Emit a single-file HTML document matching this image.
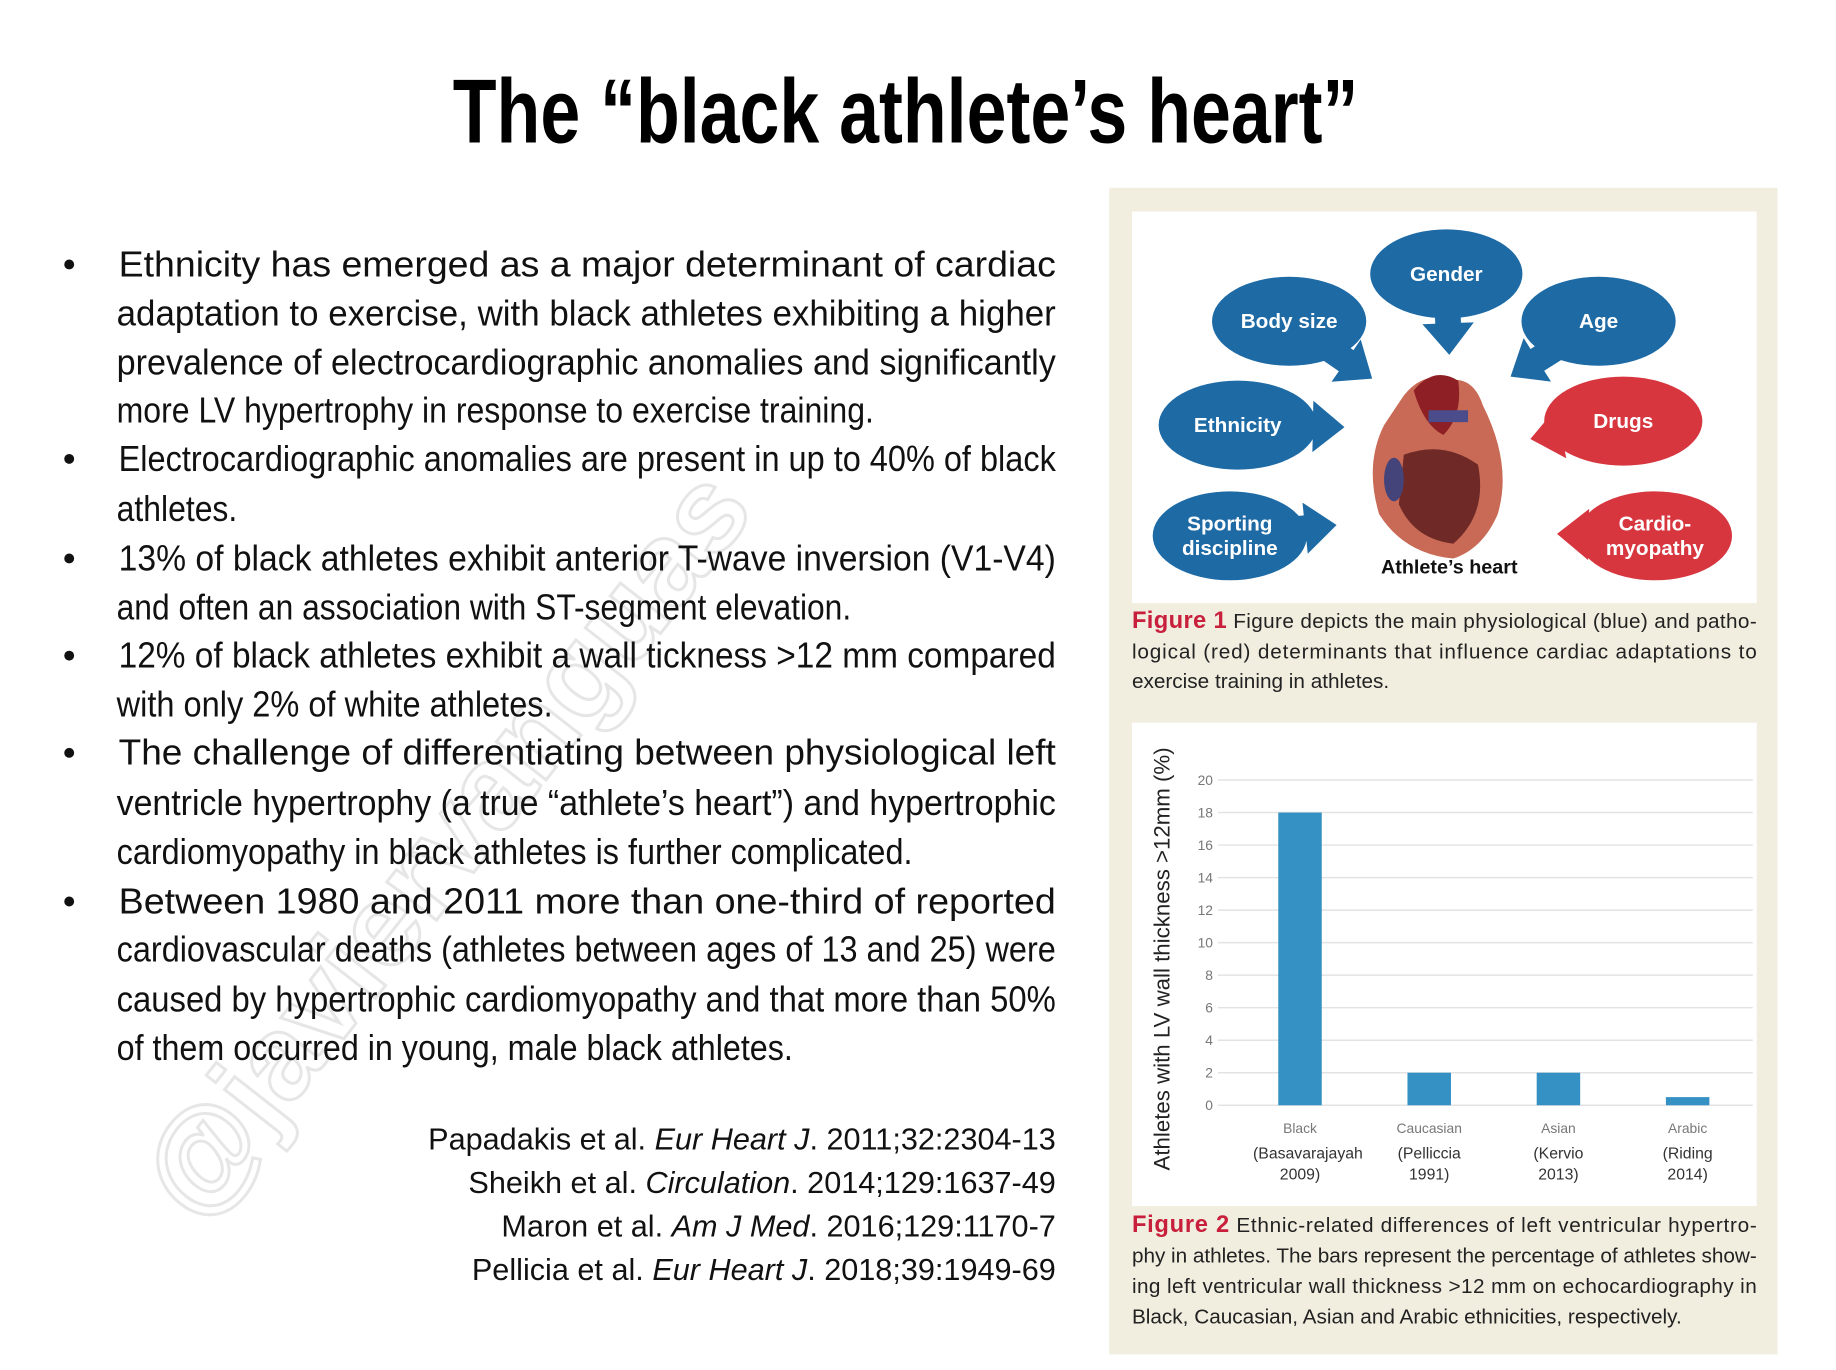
<!DOCTYPE html>
<html><head><meta charset="utf-8"><style>
html,body{margin:0;padding:0;background:#fff;}
svg{display:block;}
text{font-family:"Liberation Sans",sans-serif;}
</style></head>
<body>
<svg id="page" width="1836" height="1370" viewBox="0 0 1836 1370" xmlns="http://www.w3.org/2000/svg">
<rect width="1836" height="1370" fill="#fff"/>
<g transform="scale(0.9886)">
<text x="0" y="0" transform="translate(200,1240) rotate(-52)" font-size="120" fill="none" stroke="#e6e6e6" stroke-width="3" font-weight="bold">@javiervanguas</text>

<text x="916" y="144" text-anchor="middle" font-size="92" font-weight="bold" textLength="916" lengthAdjust="spacingAndGlyphs" fill="#000">The “black athlete’s heart”</text>

<g id="bullets" font-size="37" fill="#111"></g>
<g id="refs" font-size="31" fill="#111" text-anchor="end">
<text x="1068" y="1163">Papadakis et al. <tspan font-style="italic">Eur Heart J</tspan>. 2011;32:2304-13</text>
<text x="1068" y="1207">Sheikh et al. <tspan font-style="italic">Circulation</tspan>. 2014;129:1637-49</text>
<text x="1068" y="1251">Maron et al. <tspan font-style="italic">Am J Med</tspan>. 2016;129:1170-7</text>
<text x="1068" y="1295">Pellicia et al. <tspan font-style="italic">Eur Heart J</tspan>. 2018;39:1949-69</text>
</g>

<rect x="1122" y="190" width="676" height="1180" fill="#f1eee0"/>
<rect x="1145" y="214" width="632" height="396" fill="#fff"/>
<g id="fig1"></g>
<g font-size="21" fill="#222">
<text x="1145" y="635" textLength="632" lengthAdjust="spacing"><tspan font-weight="bold" fill="#c8203c" font-size="24">Figure 1</tspan>  Figure depicts the main physiological (blue) and patho-</text>
<text x="1145" y="666" textLength="632" lengthAdjust="spacing">logical (red) determinants that influence cardiac adaptations to</text>
<text x="1145" y="696">exercise training in athletes.</text>
</g>
<rect x="1145" y="731" width="632" height="489" fill="#fff"/>
<g id="chart"></g>
<g font-size="21" fill="#222">
<text x="1145" y="1246" textLength="632" lengthAdjust="spacing"><tspan font-weight="bold" fill="#c8203c" font-size="24">Figure 2</tspan>  Ethnic-related differences of left ventricular hypertro-</text>
<text x="1145" y="1277" textLength="632" lengthAdjust="spacing">phy in athletes. The bars represent the percentage of athletes show-</text>
<text x="1145" y="1308" textLength="632" lengthAdjust="spacing">ing left ventricular wall thickness &gt;12 mm on echocardiography in</text>
<text x="1145" y="1339">Black, Caucasian, Asian and Arabic ethnicities, respectively.</text>
</g>
</g>
</svg>
<script>
const NS='http://www.w3.org/2000/svg';
function mk(tag,attrs,parent,txt){const e=document.createElementNS(NS,tag);for(const k in attrs)e.setAttribute(k,attrs[k]);if(txt!==undefined)e.textContent=txt;parent.appendChild(e);return e;}

const bulletLines=[
 ["Ethnicity has emerged as a major determinant of cardiac",1,1],
 ["adaptation to exercise, with black athletes exhibiting a higher",0,1],
 ["prevalence of electrocardiographic anomalies and significantly",0,1],
 ["more LV hypertrophy in response to exercise training.",0,884],
 ["Electrocardiographic anomalies are present in up to 40% of black",1,1],
 ["athletes.",0,240],
 ["13% of black athletes exhibit anterior T-wave inversion (V1-V4)",1,1],
 ["and often an association with ST-segment elevation.",0,861],
 ["12% of black athletes exhibit a wall tickness >12 mm compared",1,1],
 ["with only 2% of white athletes.",0,559],
 ["The challenge of differentiating between physiological left",1,1],
 ["ventricle hypertrophy (a true “athlete’s heart”) and hypertrophic",0,1],
 ["cardiomyopathy in black athletes is further complicated.",0,923],
 ["Between 1980 and 2011 more than one-third of reported",1,1],
 ["cardiovascular deaths (athletes between ages of 13 and 25) were",0,1],
 ["caused by hypertrophic cardiomyopathy and that more than 50%",0,1],
 ["of them occurred in young, male black athletes.",0,802]
];
const lineY=[225,267,309,350,391,434,476,518,559,601,642,685,727,769,810,853,894];
const bg=document.getElementById('bullets');
bulletLines.forEach((l,i)=>{
 const y=(lineY[i]+11)*1.1845;
 const x0=l[1]?120:118;
 const right=l[2]===1?1068:l[2];
 const t=mk('text',{x:x0,y:y.toFixed(1),textLength:right-x0,lengthAdjust:'spacingAndGlyphs'},bg,l[0]);
 
 
 if(l[1]){const d=mk('circle',{cx:70,cy:(y-12).toFixed(1),r:5,fill:'#111'},bg);
  
  }
});

const f1=document.getElementById('fig1');
const BLUE='#1d6aa5',RED='#d7363f';
const bubbles=[
 ['Body size',1304,325,78,45,BLUE,1388,383],
 ['Gender',1463,277,77,45,BLUE,1466,359],
 ['Age',1617,325,78,45,BLUE,1528,381],
 ['Ethnicity',1252,430,80,45,BLUE,1360,432],
 ['Drugs',1642,426,80,45,RED,1548,444],
 ['Sporting|discipline',1244,542,78,45,BLUE,1352,531],
 ['Cardio-|myopathy',1674,542,78,45,RED,1575,540]
];
const hg=mk('g',{},f1);


mk('path',{d:'M1420 400 Q1440 375 1465 385 Q1490 380 1500 410 Q1530 470 1515 520 Q1500 555 1470 565 Q1420 560 1395 520 Q1380 470 1400 430 Z',fill:'#c86a55'},hg);
mk('path',{d:'M1430 395 Q1450 370 1475 385 Q1480 420 1460 440 Q1440 430 1430 395 Z',fill:'#8e1f24'},hg);
mk('path',{d:'M1420 460 Q1460 445 1495 470 Q1505 520 1470 550 Q1430 545 1415 510 Z',fill:'#6f2a27'},hg);
mk('rect',{x:1445,y:415,width:40,height:12,fill:'#4a4c8c'},hg);
mk('ellipse',{cx:1410,cy:485,rx:10,ry:22,fill:'#45447a'},hg);
bubbles.forEach(b=>{
 const g=mk('g',{},f1);
 
 
 const [lab,cx,cy,rx,ry,col,tx,ty]=b;
 const dx=tx-cx,dy=ty-cy,L=Math.hypot(dx,dy),ux=dx/L,uy=dy/L,px=-uy,py=ux;
 const hl=32,hw=26,sw=13;
 const bx=tx-ux*hl,by=ty-uy*hl;
 const pts=[[cx+px*sw,cy+py*sw],[bx+px*sw,by+py*sw],[bx+px*hw,by+py*hw],[tx,ty],[bx-px*hw,by-py*hw],[bx-px*sw,by-py*sw],[cx-px*sw,cy-py*sw]];
 mk('polygon',{points:pts.map(p=>p.map(v=>v.toFixed(1)).join(',')).join(' '),fill:col},g);
 mk('ellipse',{cx,cy,rx,ry,fill:col},g);
 const parts=lab.split('|');
 parts.forEach((p,i)=>{
  mk('text',{x:cx,y:cy+7+(i-(parts.length-1)/2)*25,'text-anchor':'middle','font-size':21,'font-weight':'bold',fill:'#fff'},g,p);
 });
});
const ah=mk('text',{x:1466,y:580,'text-anchor':'middle','font-size':20,'font-weight':'bold',fill:'#111'},f1,"Athlete’s heart");



const categories=['Black','Caucasian','Asian','Arabic'];
const sources=[['(Basavarajayah','2009)'],['(Pelliccia','1991)'],['(Kervio','2013)'],['(Riding','2014)']];
const values=[18,2,2,0.5];
const yTicks=[0,2,4,6,8,10,12,14,16,18,20];
const ch=document.getElementById('chart');
const X0=1232,X1=1773,Y0=1118,Y20=789,YMAX=20;
const yS=v=>Y0-(v/YMAX)*(Y0-Y20);
const FIRST=1315,STEP=130.7;
const xS=i=>FIRST+i*STEP;
yTicks.forEach(t=>{
 const ln=mk('line',{x1:X0,x2:X1,y1:yS(t),y2:yS(t),stroke:'#e3e3e3','stroke-width':1.5},ch);
 
 
 const tl=mk('text',{x:1227,y:yS(t)+5,'text-anchor':'end','font-size':14,fill:'#777'},ch,String(t));
 
 
});
categories.forEach((c,i)=>{
 const cx=xS(i),w=44;
 const r=mk('rect',{x:cx-w/2,y:yS(values[i]),width:w,height:Y0-yS(values[i]),fill:'#3591c4'},ch);
 
 
 const t=mk('text',{x:cx,y:1146,'text-anchor':'middle','font-size':14,fill:'#777'},ch,c);
 
 
 sources[i].forEach((s,j)=>{
  const st=mk('text',{x:cx+(j===0&&i===0?8:0),y:1172+j*21,'text-anchor':'middle','font-size':16,fill:'#333'},ch,s);
  
  
 });
});
const yt=mk('text',{x:0,y:0,transform:'translate(1183,970) rotate(-90)','text-anchor':'middle','font-size':22,fill:'#222',textLength:428,lengthAdjust:'spacingAndGlyphs'},ch,'Athletes with LV wall thickness >12mm (%)');


</script>
</body></html>
